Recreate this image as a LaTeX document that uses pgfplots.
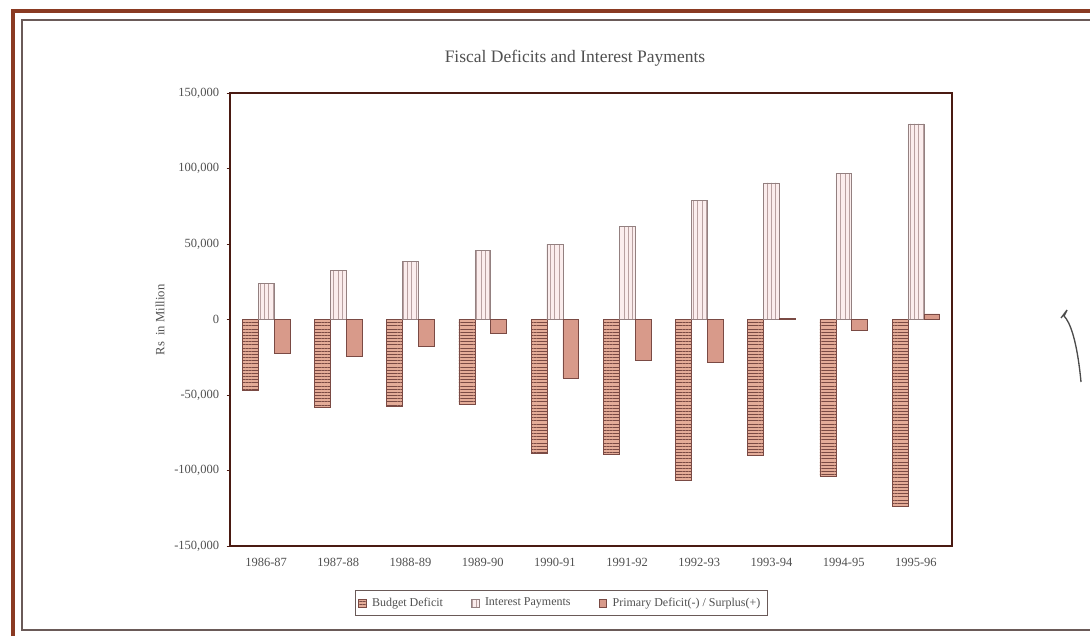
\documentclass[border=0pt]{standalone}
\usepackage{fontspec}
\setmainfont{Liberation Serif}
\usepackage{pgfplots}
\usepackage{pgfplotstable}
\pgfplotsset{compat=1.18}
\usetikzlibrary{patterns.meta}

\definecolor{frameBrown}{HTML}{8A3A22}
\definecolor{frameGray}{HTML}{6A5A58}
\definecolor{axisBrown}{HTML}{4A1A12}
\definecolor{budgetFill}{HTML}{E4AC98}
\definecolor{budgetLine}{HTML}{7A4A44}
\definecolor{interestFill}{HTML}{FBEDED}
\definecolor{interestLine}{HTML}{B8A0A0}
\definecolor{primaryFill}{HTML}{D89A8A}
\definecolor{textGray}{HTML}{505050}

% Rs in million, 1986-87 to 1995-96
\pgfplotstableread{
idx budget interest primary
0  -46800  23800  -22500
1  -57800  32500  -24300
2  -57400  38400  -17700
3  -56300  46000   -9300
4  -88700  49700  -38600
5  -89200  61800  -27000
6 -106600  78800  -28000
7  -90000  90500     800
8 -103800  97000   -7300
9 -124000 129600    3800
}\fiscal

\tikzset{
  budgetStyle/.style={draw=budgetLine, line width=0.3pt, fill=budgetFill,
    postaction={pattern={Lines[angle=0,distance=1.9pt,line width=0.4pt]}, pattern color=budgetLine}},
  interestStyle/.style={draw=interestLine!80!black, line width=0.3pt, fill=interestFill,
    postaction={pattern={Lines[angle=90,distance=2.6pt,line width=0.3pt]}, pattern color=interestLine}},
  primaryStyle/.style={draw=budgetLine, line width=0.3pt, fill=primaryFill},
}

\begin{document}
\begin{tikzpicture}[x=0.6pt, y=-0.6pt]
  \useasboundingbox (0,0) rectangle (1090,636);
  % page frame
  \draw[frameBrown, line width=2.6pt] (13,636) -- (13,11) -- (1090,11);
  \draw[frameGray, line width=0.7pt] (1090,20) -- (22,20) -- (22,630) -- (1090,630);
  % pen stroke in the right margin
  \draw[gray!60!black, line width=0.8pt] (1061,318) -- (1067,310) -- (1064,316)
        .. controls (1070,322) and (1077,340) .. (1081,382);

  \node[text=textGray, font=\fontsize{10.5}{12}\selectfont] at (575,58)
        {Fiscal Deficits and Interest Payments};
  \node[text=textGray, rotate=90, font=\fontsize{7.6}{9}\selectfont] at (160,320)
        {Rs\ \ in Million};

  \begin{axis}[
    at={(138pt,-327.6pt)}, anchor=south west,
    scale only axis, width=433.2pt, height=271.8pt,
    xmin=-0.5, xmax=9.5, ymin=-150000, ymax=150000,
    ybar, bar width=0.22,
    axis line style={axisBrown, line width=1.1pt},
    xtick={0,...,9},
    xticklabels={1986-87,1987-88,1988-89,1989-90,1990-91,1991-92,1992-93,1993-94,1994-95,1995-96},
    major x tick style={draw=none},
    xtick pos=bottom, ytick pos=left,
    ytick={-150000,-100000,...,150000},
    scaled y ticks=false,
    tick align=outside, major tick length=2pt,
    major y tick style={axisBrown, line width=0.5pt},
    /pgf/number format/.cd, fixed, precision=0, 1000 sep={,}, assume math mode=true,
    /pgfplots/.cd,
    tick label style={text=textGray, font=\fontsize{7.5}{9}\selectfont},
    xticklabel style={yshift=-2pt},
    yticklabel style={xshift=-1pt},
    legend columns=3,
    legend style={at={(0.4585,-0.126)}, anchor=center, draw=frameGray, line width=0.6pt,
      text=textGray, font=\fontsize{7.2}{8}\selectfont, inner sep=2pt,
      /tikz/every odd column/.append style={column sep=1.5pt},
      /tikz/every even column/.append style={column sep=15pt}},
    legend image code/.code={\draw[#1] (0pt,-2.2pt) rectangle (4.4pt,2.2pt);},
  ]
    \addplot[budgetStyle, bar shift=-0.22] table[x=idx, y=budget] {\fiscal};
    \addlegendentry{Budget Deficit}
    \addplot[interestStyle, bar shift=0] table[x=idx, y=interest] {\fiscal};
    \addlegendentry{Interest Payments}
    \addplot[primaryStyle, bar shift=0.22] table[x=idx, y=primary] {\fiscal};
    \addlegendentry{Primary Deficit(-) / Surplus(+)}
  \end{axis}
\end{tikzpicture}
\end{document}
